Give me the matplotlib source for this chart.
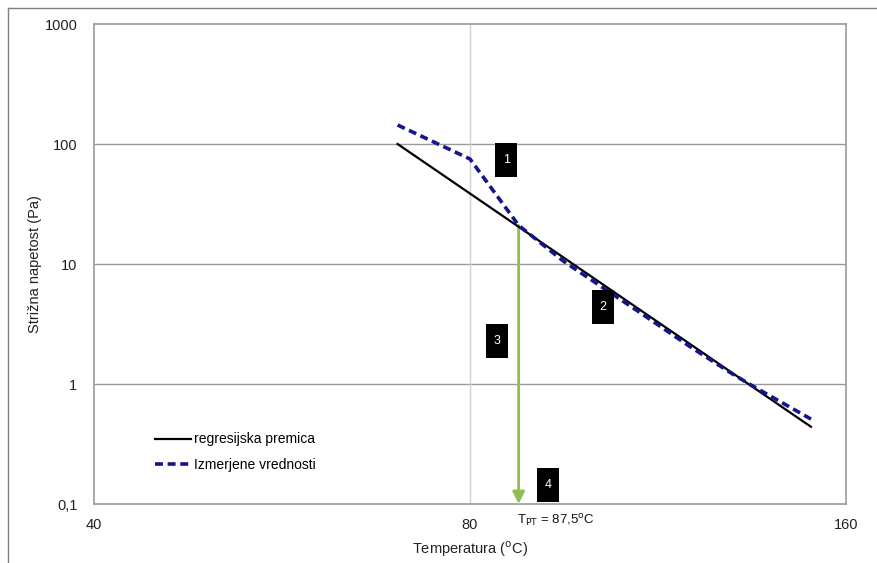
import numpy as np
import matplotlib
matplotlib.use("Agg")
import matplotlib.pyplot as plt
from matplotlib.lines import Line2D
from matplotlib.patches import Rectangle
from matplotlib.ticker import FixedLocator, NullLocator

plt.rcParams['font.family'] = ['Liberation Sans', 'DejaVu Sans']

# regression line (endpoints), measured values
reg_T = [70, 150]
reg_tau = [100, 0.44]
meas_T = [70, 80, 87.5, 95, 100, 110, 120, 130, 135, 150]
meas_tau = [144, 75, 21, 10.6, 7.4, 3.8, 2.05, 1.2, 0.95, 0.51]

T_pt = 87.5
tau_pt = 21

x_ticks = [40, 80, 160]
y_ticks = [0.1, 1, 10, 100, 1000]
y_labels = ['0,1', '1', '10', '100', '1000']

# numbered markers: (T, tau, label)
marks = [(85.5, 74, '1'), (102.2, 4.4, '2'), (84.1, 2.28, '3'), (92.4, 0.144, '4')]

fig = plt.figure(figsize=(8.77, 5.63), dpi=100)
ax = fig.add_axes([94/877, 1 - 504/563, 752/877, 480/563])

ax.set_xscale('log', base=2)
ax.set_yscale('log')
ax.set_xlim(40, 160)
ax.set_ylim(0.1, 1000)

ax.xaxis.set_major_locator(FixedLocator(x_ticks))
ax.xaxis.set_minor_locator(NullLocator())
ax.set_xticklabels([str(t) for t in x_ticks])
ax.yaxis.set_major_locator(FixedLocator(y_ticks))
ax.yaxis.set_minor_locator(NullLocator())
ax.set_yticklabels(y_labels)
ax.tick_params(length=0, labelsize=10.5, colors='#222222')
ax.tick_params(axis='x', pad=10)
ax.tick_params(axis='y', pad=12)

for y in y_ticks[1:-1]:
    ax.axhline(y, color='#9a9a9a', lw=1, zorder=0)
ax.axvline(80, color='#d0d0d0', lw=1, zorder=0)
for s in ax.spines.values():
    s.set_color('#9a9a9a')
    s.set_linewidth(1.2)

ax.plot(reg_T, reg_tau, color='black', lw=1.6, label='regresijska premica', zorder=3)
ax.plot(meas_T, meas_tau, color='#14148c', lw=2.6, ls=(0, (2.2, 1.3)),
        label='Izmerjene vrednosti', zorder=4)

ax.annotate('', xy=(T_pt, 0.1), xytext=(T_pt, tau_pt),
            arrowprops=dict(arrowstyle='-|>', color='#92c050', lw=2,
                            mutation_scale=18, shrinkA=0, shrinkB=0), zorder=2)

ax.text(T_pt - 0.3, -0.018, r'T$_{\rm PT}$ = 87,5$^{\rm o}$C', transform=ax.get_xaxis_transform(),
        ha='left', va='top', fontsize=9.5, color='#111111')

fig.canvas.draw()
for T, tau, lab in marks:
    cx, cy = ax.transData.transform((T, tau))
    ax.add_patch(Rectangle((cx - 11, cy - 17), 22, 34, transform=None,
                           facecolor='black', edgecolor='none', zorder=6))
    ax.text(T, tau, lab, color='white', fontsize=9, ha='center', va='center', zorder=7)

ax.legend(loc='upper left', bbox_to_anchor=(0.065, 0.175), frameon=False,
          fontsize=10, handlelength=2.6, handletextpad=0.2, labelspacing=0.8)

ax.set_xlabel(r'Temperatura ($^{\rm o}$C)', fontsize=10.5, color='#222222')
ax.set_ylabel('Strižna napetost (Pa)', fontsize=10.5, color='#222222')
ax.xaxis.set_label_coords(0.5, -0.074)
ax.yaxis.set_label_coords(-0.069, 0.5)

fig.add_artist(Line2D([8/877, 8/877], [0, 1 - 8/563], color='#808080', lw=1))
fig.add_artist(Line2D([8/877, 1], [1 - 8/563, 1 - 8/563], color='#808080', lw=1))

fig.savefig('out.png', dpi=100)
